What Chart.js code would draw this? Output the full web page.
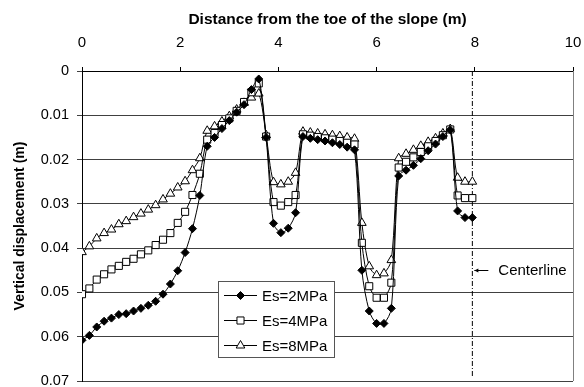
<!DOCTYPE html>
<html>
<head>
<meta charset="utf-8">
<script src="https://cdn.jsdelivr.net/npm/chart.js@4.4.0/dist/chart.umd.min.js"></script>
<style>
  html, body { margin: 0; padding: 0; background: #fff; }
</style>
</head>
<body>
<canvas id="chart" width="584" height="387"></canvas>
<script>
// Distance from the toe of the slope (m)
const distance = [0, 0.15, 0.3, 0.45, 0.6, 0.75, 0.9, 1.05, 1.2, 1.35, 1.5, 1.65, 1.8, 1.95, 2.1, 2.25,
    2.4, 2.55, 2.7, 2.85, 3.0, 3.15, 3.3, 3.45, 3.6, 3.75, 3.9, 4.05, 4.2, 4.35, 4.5, 4.65, 4.8, 4.95,
    5.1, 5.25, 5.4, 5.55, 5.7, 5.85, 6.0, 6.15, 6.3, 6.45, 6.6, 6.75, 6.9, 7.05, 7.2, 7.35, 7.5, 7.65,
    7.8, 7.95];

// Vertical displacement (m)
const es2 = [0.0608, 0.0597, 0.0578, 0.0565, 0.0558, 0.0550, 0.0548, 0.0542, 0.0536, 0.0529, 0.0520,
    0.0504, 0.0481, 0.0451, 0.0410, 0.0356, 0.0281, 0.0170, 0.0150, 0.0130, 0.0112, 0.0093, 0.0076,
    0.0042, 0.0018, 0.0150, 0.0344, 0.0365, 0.0355, 0.0320, 0.0148, 0.0152, 0.0155, 0.0158, 0.0162,
    0.0166, 0.0172, 0.0178, 0.0450, 0.0542, 0.0570, 0.0570, 0.0536, 0.0237, 0.0224, 0.0213, 0.0198,
    0.0180, 0.0165, 0.0148, 0.0133, 0.0316, 0.0331, 0.0331];
const es4 = [0.0504, 0.0491, 0.0471, 0.0459, 0.0448, 0.0440, 0.0431, 0.0424, 0.0414, 0.0405, 0.0393,
    0.0381, 0.0366, 0.0343, 0.0318, 0.0280, 0.0232, 0.0155, 0.0140, 0.0122, 0.0107, 0.0090, 0.0070,
    0.0048, 0.0028, 0.0148, 0.0296, 0.0304, 0.0296, 0.0280, 0.0143, 0.0146, 0.0149, 0.0152, 0.0155,
    0.0158, 0.0162, 0.0166, 0.0388, 0.0486, 0.0512, 0.0512, 0.0478, 0.0218, 0.0205, 0.0195, 0.0183,
    0.0170, 0.0158, 0.0145, 0.0132, 0.0281, 0.0287, 0.0287];
const es8 = [0.0409, 0.0396, 0.0378, 0.0366, 0.0358, 0.0346, 0.0339, 0.0330, 0.0322, 0.0313, 0.0303,
    0.0290, 0.0277, 0.0263, 0.0249, 0.0224, 0.0197, 0.0135, 0.0125, 0.0114, 0.0102, 0.0087, 0.0072,
    0.0060, 0.0051, 0.0145, 0.0251, 0.0256, 0.0250, 0.0230, 0.0137, 0.0139, 0.0141, 0.0143, 0.0145,
    0.0147, 0.0150, 0.0153, 0.0343, 0.0441, 0.0461, 0.0457, 0.0427, 0.0197, 0.0187, 0.0178, 0.0169,
    0.0160, 0.0152, 0.0141, 0.0131, 0.0241, 0.0250, 0.0250];

const seriesLabels = ['Es=2MPa', 'Es=4MPa', 'Es=8MPa'];
const xTicks = [0, 2, 4, 6, 8, 10];
const yTicks = [0, 0.01, 0.02, 0.03, 0.04, 0.05, 0.06, 0.07];

const centerlineX = 7.95;
const centerlineSpan = [0, 0.069];
const centerlineLabel = 'Centerline';
const centerlineLabelY = 0.045;

const FONT = "'Liberation Sans', Arial, sans-serif";

const toPoints = values => values.map((v, i) => ({ x: distance[i], y: v }));

const seriesStyle = (label, values, pointStyle, radius, fill) => ({
    label,
    data: toPoints(values),
    borderColor: '#000',
    borderWidth: 1,
    pointStyle,
    pointRadius: radius,
    pointBorderWidth: 1,
    pointBorderColor: '#000',
    pointBackgroundColor: fill,
    tension: 0.3
});

// draws the boxed legend, the plot border and the centerline note
const overlay = {
    id: 'overlay',
    afterDatasetsDraw(chart) {
        const { ctx, chartArea: area, scales } = chart;
        ctx.save();

        // right border of plot area
        const rx = Math.round(area.right) + 0.5;
        ctx.strokeStyle = '#808080';
        ctx.lineWidth = 1;
        ctx.beginPath();
        ctx.moveTo(rx, area.top);
        ctx.lineTo(rx, area.bottom);
        ctx.stroke();

        // centerline arrow + text
        const cx = scales.x.getPixelForValue(centerlineX);
        const cy = Math.round(scales.y.getPixelForValue(centerlineLabelY)) + 0.5;
        ctx.strokeStyle = '#000';
        ctx.fillStyle = '#000';
        ctx.beginPath();
        ctx.moveTo(cx + 2, cy);
        ctx.lineTo(cx + 16, cy);
        ctx.stroke();
        ctx.beginPath();
        ctx.moveTo(cx + 2, cy);
        ctx.lineTo(cx + 6, cy - 2);
        ctx.lineTo(cx + 6, cy + 2);
        ctx.closePath();
        ctx.fill();
        ctx.font = '15px ' + FONT;
        ctx.textAlign = 'left';
        ctx.textBaseline = 'middle';
        ctx.fillText(centerlineLabel, cx + 26, cy);

        // legend box
        const box = { left: 218.5, top: 281.5, width: 116, height: 76 };
        ctx.fillStyle = '#fff';
        ctx.fillRect(box.left, box.top, box.width, box.height);
        ctx.strokeStyle = '#555';
        ctx.strokeRect(box.left, box.top, box.width, box.height);

        seriesLabels.forEach((label, i) => {
            const ds = chart.data.datasets[i];
            const ly = Math.round(box.top + 13 + i * 25) + 0.5;
            ctx.strokeStyle = '#000';
            ctx.lineWidth = 1;
            ctx.beginPath();
            ctx.moveTo(224, ly);
            ctx.lineTo(257, ly);
            ctx.stroke();
            ctx.fillStyle = ds.pointBackgroundColor;
            Chart.helpers.drawPoint(ctx, {
                pointStyle: ds.pointStyle,
                radius: ds.pointRadius,
                borderWidth: 1,
                rotation: 0
            }, 240.5, ly);
            ctx.fillStyle = '#000';
            ctx.font = '15px ' + FONT;
            ctx.textAlign = 'left';
            ctx.textBaseline = 'middle';
            ctx.fillText(label, 262, ly + 1);
        });

        ctx.restore();
    }
};

new Chart(document.getElementById('chart'), {
    type: 'line',
    data: {
        datasets: [
            seriesStyle(seriesLabels[0], es2, 'rectRot', 4, '#000'),
            seriesStyle(seriesLabels[1], es4, 'rect', 5, '#fff'),
            seriesStyle(seriesLabels[2], es8, 'triangle', 5, '#fff'),
            {
                label: centerlineLabel,
                data: centerlineSpan.map(v => ({ x: centerlineX, y: v })),
                borderColor: '#000',
                borderWidth: 1,
                borderDash: [5, 2, 1, 2],
                pointRadius: 0,
                tension: 0
            }
        ]
    },
    options: {
        responsive: false,
        animation: false,
        layout: { padding: { left: 0, right: 11, top: 0, bottom: 6 } },
        plugins: {
            legend: { display: false },
            tooltip: { enabled: false }
        },
        scales: {
            x: {
                type: 'linear',
                position: 'top',
                min: 0,
                max: 10,
                afterBuildTicks: scale => { scale.ticks = xTicks.map(v => ({ value: v })); },
                afterFit: scale => {
                    scale.height = 71;
                    scale.paddingLeft = 0;
                    scale.paddingRight = 0;
                },
                ticks: {
                    color: '#000',
                    padding: 15,
                    font: { family: FONT, size: 15 }
                },
                grid: {
                    drawOnChartArea: false,
                    color: '#000',
                    tickLength: 4
                },
                border: { color: '#000', width: 1 },
                title: {
                    display: true,
                    text: 'Distance from the toe of the slope (m)',
                    color: '#000',
                    font: { family: FONT, size: 15.5, weight: 'bold' },
                    padding: { top: 10, bottom: 0 }
                }
            },
            y: {
                type: 'linear',
                reverse: true,
                min: 0,
                max: 0.07,
                afterBuildTicks: scale => { scale.ticks = yTicks.map(v => ({ value: v })); },
                afterFit: scale => {
                    scale.width = 82;
                    scale.paddingTop = 0;
                    scale.paddingBottom = 0;
                },
                ticks: {
                    color: '#000',
                    padding: 8,
                    font: { family: FONT, size: 14.5, lineHeight: 1 },
                    callback: v => String(parseFloat(Number(v).toFixed(2)))
                },
                grid: {
                    color: '#404040',
                    tickLength: 5
                },
                border: { color: '#000', width: 1 },
                title: {
                    display: true,
                    text: 'Vertical displacement (m)',
                    color: '#000',
                    font: { family: FONT, size: 14, weight: 'bold' },
                    padding: { top: 12, bottom: 0 }
                }
            }
        }
    },
    plugins: [overlay]
});
</script>
</body>
</html>
